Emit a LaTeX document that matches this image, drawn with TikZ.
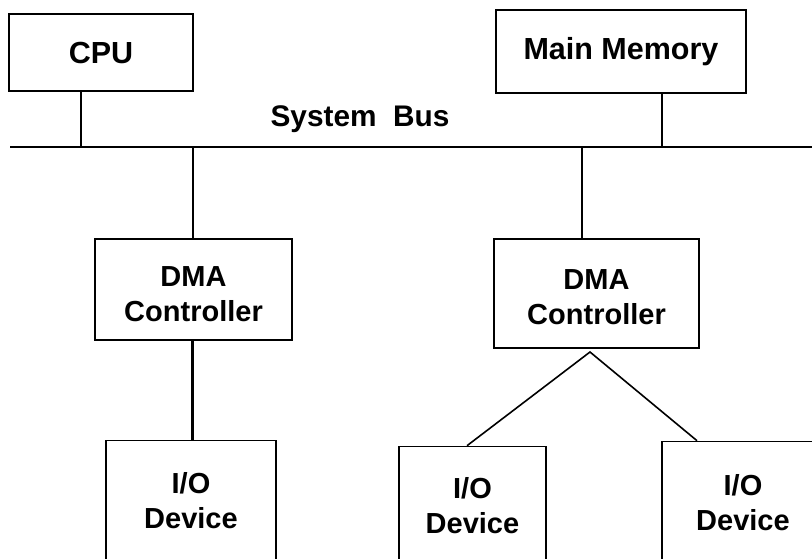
\documentclass[tikz,border=0pt]{standalone}
\usepackage{fontspec}
\setmainfont{Liberation Sans}
\begin{document}
\begin{tikzpicture}[x=1pt,y=-1pt,
  lbl/.style={font=\bfseries\fontsize{29}{35}\selectfont, align=center},
  toplbl/.style={font=\bfseries\fontsize{30.5}{36}\selectfont, align=center},
  unit/.style={draw=black, line width=1.6pt, rectangle, inner sep=0pt, lbl},
  wire/.style={draw=black, line width=1.6pt},
  heavy/.style={draw=black, line width=3pt},
  busline/.style={draw=black, line width=2.4pt}]
\useasboundingbox (0,0) rectangle (812,558);
\clip (0,0) rectangle (812,558);

% processor and memory on top of the bus
\node[unit, toplbl, minimum width=184pt, minimum height=77pt] (cpu) at (101,52.5) {CPU};
\node[unit, toplbl, minimum width=250pt, minimum height=83pt] (mem) at (621,51.5) {Main Memory};

% the shared bus
\coordinate (busL) at (10,147);
\coordinate (busR) at (814,147);
\draw[busline] (busL) -- (busR);
\node[toplbl, font=\bfseries\fontsize{29.8}{36}\selectfont] (buslabel) at (360,119) {System\ \ Bus};

% DMA controllers (text sits a little below the middle)
\node[unit, minimum width=197pt, minimum height=101pt,
  label={[lbl, yshift=-4.5pt]center:DMA\\Controller}] (dma1) at (193.5,289.5) {};
\node[unit, minimum width=205pt, minimum height=109pt,
  label={[lbl, yshift=-4pt]center:DMA\\Controller}] (dma2) at (596.5,293.5) {};

% I/O devices (running past the lower edge)
\node[unit, minimum width=170pt, minimum height=120pt] (io1) at (191,500.5) {I/O\\Device};
\node[unit, minimum width=147pt, minimum height=118pt] (io2) at (472.5,505.5) {I/O\\Device};
\node[unit, minimum width=162pt, minimum height=122pt] (io3) at (743,502.5) {I/O\\Device};

% taps onto the bus
\coordinate (tcpu) at (81,147);
\coordinate (tmem) at (662,147);
\coordinate (tdma1) at (193,147);
\coordinate (tdma2) at (582,147);
\draw[wire] (cpu.south -| tcpu) -- (tcpu);
\draw[wire] (mem.south -| tmem) -- (tmem);
\draw[wire] (tdma1) -- (dma1.north -| tdma1);
\draw[wire] (tdma2) -- (dma2.north -| tdma2);

% controller to device links
\coordinate (d1x) at (192,0);
\draw[heavy] (dma1.south -| d1x) -- (io1.north -| d1x);
\coordinate (apex) at (590,352);
\coordinate (io2x) at (467,0);
\coordinate (io3x) at (697,0);
\draw[wire] (io2.north -| io2x) -- (apex) -- (io3.north -| io3x);
\end{tikzpicture}
\end{document}
